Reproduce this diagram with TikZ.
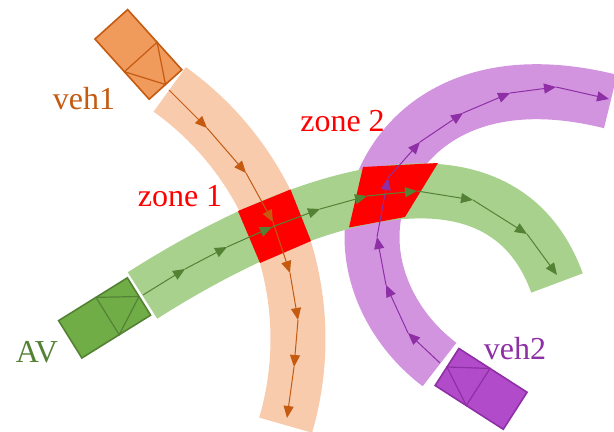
\documentclass[tikz,border=0pt]{standalone}
\usepackage{fontspec}
\setmainfont{Liberation Serif}
\usetikzlibrary{arrows.meta}

\definecolor{lineorange}{HTML}{C55A11}
\definecolor{bandorange}{HTML}{F8CBAD}
\definecolor{carorange}{HTML}{F09A5B}
\definecolor{linegreen}{HTML}{548235}
\definecolor{bandgreen}{HTML}{A9D18E}
\definecolor{cargreen}{HTML}{70AD47}
\definecolor{linepurple}{HTML}{8E2FA6}
\definecolor{bandpurple}{HTML}{D294DF}
\definecolor{carpurple}{HTML}{B24BC9}

\begin{document}
\begin{tikzpicture}[x=0.5pt, y=-0.5pt,
    band/.style={line width=27.5pt},
    traj/.style={line width=0.5pt, -{Triangle[length=6pt, width=5pt]}},
    zone/.style={fill=red},
    car/.style={line width=0.8pt},
    txt/.style={font=\fontsize{16}{16}\selectfont, anchor=base, inner sep=0pt}]

    \useasboundingbox (0,0) rectangle (614,432);

    % Bands of the three vehicles
    \draw[band, bandorange] (-9,339) ++(-54.4:307) arc[start angle=-54.4, end angle=16.3, radius=307];
    \draw[band, bandpurple] (439.5,364.5) .. controls (399.6,334.4) and (372,287) .. (372,237)
        .. controls (372,157) and (445.6,60.4) .. (610.5,101.5);
    \draw[band, bandgreen] (142.5,295.5) .. controls (311,188) and (502.3,132.6) .. (557,283);

    % Conflict zones
    \fill[zone] (238,211) -- (290.5,189.5) -- (311,241) -- (260,263) -- cycle;
    \fill[zone] (363,167) -- (438,163) -- (405,217) -- (349,227.5) -- cycle;

    % Trajectory of veh1
    \foreach \x/\y [count=\i] in {169/90, 207/128, 246/173, 273/222, 290/273, 298/320, 294/367, 287/418}
        \coordinate (o\i) at (\x,\y);
    \foreach \i [remember=\i as \j (initially 1)] in {2,...,8}
        \draw[traj, lineorange] (o\j) -- (o\i);

    % Trajectory of veh2
    \foreach \x/\y [count=\i] in {440/363, 408/333, 386/285, 377/237, 388/178, 420/142, 463/113, 510/93, 556/87, 609/99}
        \coordinate (p\i) at (\x,\y);
    \foreach \i [remember=\i as \j (initially 1)] in {2,...,10}
        \draw[traj, linepurple] (p\j) -- (p\i);

    % Trajectory of AV
    \foreach \x/\y [count=\i] in {143/295, 185/269, 227/247, 272/227, 320/209, 367/196, 417/191, 473/200, 527/234, 557/275}
        \coordinate (g\i) at (\x,\y);
    \foreach \i [remember=\i as \j (initially 1)] in {2,...,10}
        \draw[traj, linegreen] (g\j) -- (g\i);

    % veh1
    \begin{scope}[shift={(165.5,84.5)}, rotate=-48]
        \draw[car, fill=carorange, draw=lineorange] (0,-22) rectangle (-81,22);
        \draw[lineorange, line width=0.6pt] (-37,-22) -- (-37,22) -- (0,0) -- cycle;
    \end{scope}

    % AV
    \begin{scope}[shift={(139,296.5)}, rotate=31.9]
        \draw[car, fill=cargreen, draw=linegreen] (0,-22) rectangle (-81,22);
        \draw[linegreen, line width=0.6pt] (-37,-22) -- (-37,22) -- (0,0) -- cycle;
    \end{scope}

    % veh2
    \begin{scope}[shift={(447,367)}, rotate=147.3]
        \draw[car, fill=carpurple, draw=linepurple] (0,-22) rectangle (-81,22);
        \draw[linepurple, line width=0.6pt] (-37,-22) -- (-37,22) -- (0,0) -- cycle;
    \end{scope}

    % Labels
    \node[txt, lineorange] (veh1) at (84,110) {veh1};
    \node[txt, red] (zone1) at (180,207) {zone 1};
    \node[txt, red] (zone2) at (342.5,132) {zone 2};
    \node[txt, linegreen] (av) at (37,362) {AV};
    \node[txt, linepurple] (veh2) at (515,359) {veh2};

\end{tikzpicture}
\end{document}
